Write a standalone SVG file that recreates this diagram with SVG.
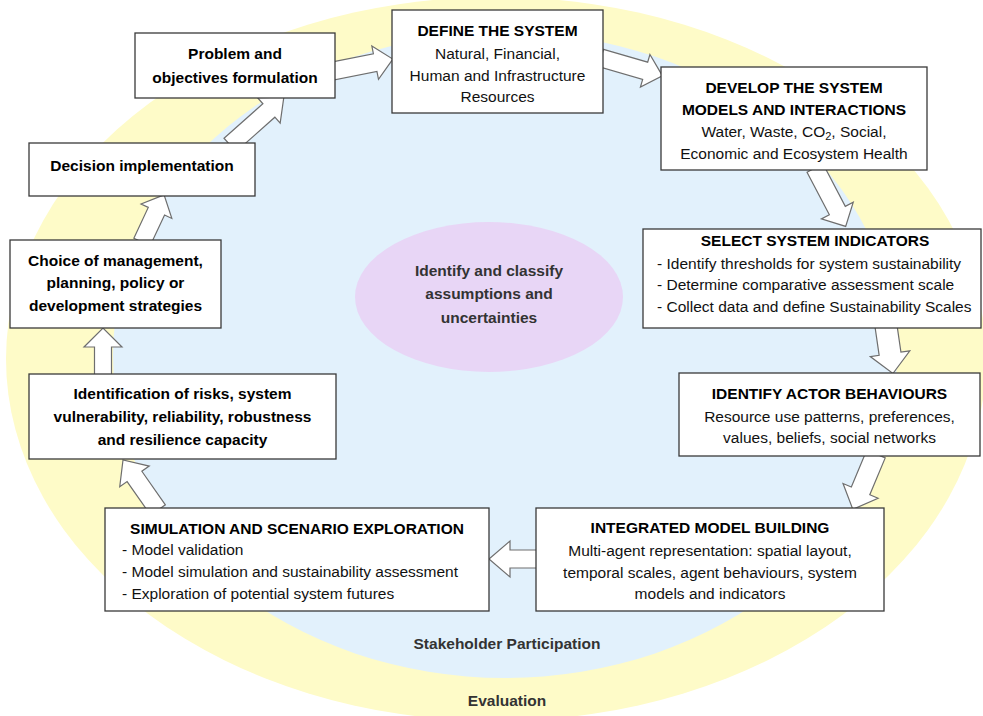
<svg xmlns="http://www.w3.org/2000/svg" width="983" height="716" viewBox="0 0 983 716">
<style>
.box{fill:#fff;stroke:#3a3a3a;stroke-width:1.3}
.arr{fill:#fff;stroke:#6e6e6e;stroke-width:1.2;stroke-linejoin:miter}
text{font-family:"Liberation Sans",Arial,sans-serif;font-size:15.5px;fill:#111}
.b{font-weight:bold;fill:#000}
.c{text-anchor:middle}
.g{font-weight:bold;fill:#333}
</style>
<rect width="983" height="716" fill="#fff"/>
<g id="evaluation">
<ellipse cx="496" cy="359" rx="490" ry="362" fill="#fefbc8"/>
<text class="g c" x="507" y="705.5">Evaluation</text>
</g>
<g id="stakeholder">
<ellipse cx="505" cy="355" rx="392" ry="323" fill="#e2f1fc"/>
<text class="g c" x="507" y="648.5">Stakeholder Participation</text>
</g>
<g id="assumptions">
<ellipse cx="489" cy="297" rx="134" ry="75" fill="#e8d6f6"/>
<text class="g c" x="489" y="275.5">Identify and classify</text>
<text class="g c" x="489" y="299">assumptions and</text>
<text class="g c" x="489" y="322.5">uncertainties</text>
</g>
<g id="connectors">
<polygon class="arr" points="0,-9 43,-9 43,-17 61,0 43,17 43,9 0,9" transform="translate(333,71) rotate(-11.3)"/>
<polygon class="arr" points="0,-9 46,-9 46,-17 64,0 46,17 46,9 0,9" transform="translate(601,58) rotate(16.2)"/>
<polygon class="arr" points="0,-9 48,-9 48,-18 66,0 48,18 48,9 0,9" transform="translate(815,168) rotate(62.3)"/>
<polygon class="arr" points="0,-11 28,-11 28,-20 48,0 28,20 28,11 0,11" transform="translate(886,326) rotate(81.7)"/>
<polygon class="arr" points="0,-10 40,-10 40,-19 60,0 40,19 40,10 0,10" transform="translate(876,454) rotate(112.7)"/>
<polygon class="arr" points="0,-9 28,-9 28,-18 49,0 28,18 28,9 0,9" transform="translate(538,559) rotate(180)"/>
<polygon class="arr" points="0,-9 41,-9 41,-18 61,0 41,18 41,9 0,9" transform="translate(158,510) rotate(-125)"/>
<polygon class="arr" points="0,-8.5 29,-8.5 29,-19 48,0 29,19 29,8.5 0,8.5" transform="translate(103,376) rotate(-90)"/>
<polygon class="arr" points="0,-9 34,-9 34,-17 52,0 34,17 34,9 0,9" transform="translate(142,242) rotate(-64.9)"/>
<polygon class="arr" points="0,-9 52,-9 52,-17 72,0 52,17 52,9 0,9" transform="translate(230,145) rotate(-41.6)"/>
</g>
<g id="problem">
<rect class="box" x="135" y="33" width="200" height="65"/>
<text class="b c" x="235" y="58.5">Problem and</text>
<text class="b c" x="235" y="82.5">objectives formulation</text>
</g>
<g id="define">
<rect class="box" x="392" y="10" width="211" height="103"/>
<text class="b c" x="497.5" y="35.5">DEFINE THE SYSTEM</text>
<text class="c" x="497.5" y="58.5">Natural, Financial,</text>
<text class="c" x="497.5" y="80.5">Human and Infrastructure</text>
<text class="c" x="497.5" y="101.5">Resources</text>
</g>
<g id="develop">
<rect class="box" x="661" y="67" width="266" height="103"/>
<text class="b c" x="794" y="92.5">DEVELOP THE SYSTEM</text>
<text class="b c" x="794" y="114.5">MODELS AND INTERACTIONS</text>
<text class="c" x="794" y="136.5">Water, Waste, CO<tspan font-size="11" dy="3">2</tspan><tspan dy="-3">, Social,</tspan></text>
<text class="c" x="794" y="158.5">Economic and Ecosystem Health</text>
</g>
<g id="select">
<rect class="box" x="643" y="229" width="338" height="99"/>
<text class="b c" x="815" y="245.5">SELECT SYSTEM INDICATORS</text>
<text x="657" y="268.5">- Identify thresholds for system sustainability</text>
<text x="657" y="290">- Determine comparative assessment scale</text>
<text x="657" y="311.5">- Collect data and define Sustainability Scales</text>
</g>
<g id="actor">
<rect class="box" x="679" y="373" width="301" height="83"/>
<text class="b c" x="829.5" y="398.5">IDENTIFY ACTOR BEHAVIOURS</text>
<text class="c" x="829.5" y="421.5">Resource use patterns, preferences,</text>
<text class="c" x="829.5" y="442.5">values, beliefs, social networks</text>
</g>
<g id="integrated">
<rect class="box" x="536" y="508" width="348" height="103"/>
<text class="b c" x="710" y="533">INTEGRATED MODEL BUILDING</text>
<text class="c" x="710" y="555.5">Multi-agent representation: spatial layout,</text>
<text class="c" x="710" y="577.5">temporal scales, agent behaviours, system</text>
<text class="c" x="710" y="598.5">models and indicators</text>
</g>
<g id="simulation">
<rect class="box" x="105" y="508" width="384" height="103"/>
<text class="b c" x="297" y="533.5">SIMULATION AND SCENARIO EXPLORATION</text>
<text x="122" y="555">- Model validation</text>
<text x="122" y="577">- Model simulation and sustainability assessment</text>
<text x="122" y="598.5">- Exploration of potential system futures</text>
</g>
<g id="identification">
<rect class="box" x="29" y="374" width="307" height="85"/>
<text class="b c" x="182.5" y="399">Identification of risks, system</text>
<text class="b c" x="182.5" y="422">vulnerability, reliability, robustness</text>
<text class="b c" x="182.5" y="445">and resilience capacity</text>
</g>
<g id="choice">
<rect class="box" x="10" y="240" width="211" height="88"/>
<text class="b c" x="115.5" y="265.5">Choice of management,</text>
<text class="b c" x="115.5" y="288">planning, policy or</text>
<text class="b c" x="115.5" y="310.5">development strategies</text>
</g>
<g id="decision">
<rect class="box" x="29" y="143" width="226" height="53"/>
<text class="b c" x="142" y="171">Decision implementation</text>
</g>
</svg>
